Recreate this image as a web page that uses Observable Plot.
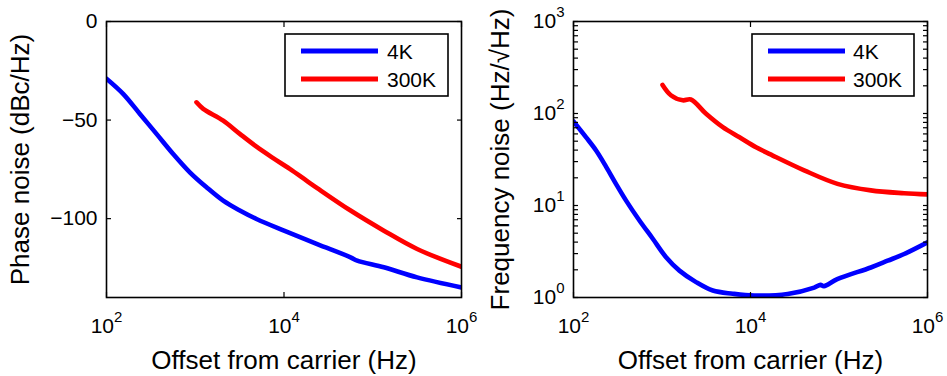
<!DOCTYPE html>
<html><head><meta charset="utf-8">
<script src="https://cdn.jsdelivr.net/npm/d3@7"></script>
<script src="https://cdn.jsdelivr.net/npm/@observablehq/plot@0.6"></script>
<style>
body{margin:0;background:#fff;}
#root{position:relative;width:947px;height:376px;overflow:hidden;font-family:"Liberation Sans",Arial,sans-serif;background:#fff;}
.panel{position:absolute;top:0;}
.panel svg{font-family:"Liberation Sans",Arial,sans-serif;overflow:visible;}
g[aria-label="x-axis tick label"], g[aria-label="y-axis tick label"]{font-size:21px;fill:#000;}
g[aria-label="x-axis label"], g[aria-label="y-axis label"]{font-size:26px;fill:#000;}
.legend{position:absolute;top:0;left:0;overflow:visible;}
</style></head><body><div id="root"></div>
<script>
// ---- data ----
const seriesNames = ["4K", "300K"];
const seriesColors = ["#0000ff", "#ff0000"];

// Left panel: phase noise (dBc/Hz)
const phaseFreq4K = [100, 154, 238, 366, 564, 869, 1340, 2065, 3177, 4898, 10000, 23660, 56230, 66830, 133400, 316200, 1000000];
const phase4K     = [-29, -36.7, -46.9, -57, -67.2, -76.5, -84.1, -90.9, -95.9, -100.2, -106.1, -112.9, -119.6, -121.3, -124.7, -129.8, -134.9];
const phaseFreq300K = [1033, 1230, 2065, 3177, 4898, 7551, 11610, 17910, 23660, 56230, 133400, 316200, 1000000];
const phase300K     = [-41, -44.3, -50.3, -57, -63.5, -69.3, -74.8, -80.7, -84.5, -95.9, -106.1, -115.4, -124.4];

// Right panel: frequency noise (Hz/sqrt(Hz))
const freqFreq4K = [100, 139, 180, 233, 302, 393, 556, 787, 1112, 1574, 2427, 3750, 6310, 10960, 26300, 52480, 61660, 67610, 95500, 229100, 354800, 544500, 1000000];
const freq4K     = [82, 55, 39.6, 26.5, 17.2, 11.3, 6.87, 4.35, 2.74, 1.96, 1.47, 1.19, 1.10, 1.05, 1.09, 1.28, 1.37, 1.33, 1.58, 2.12, 2.51, 2.97, 3.98];
const freqFreq300K = [1014, 1259, 1718, 2118, 3148, 4864, 7516, 11560, 17860, 40370, 96160, 229100, 544500, 1000000];
const freq300K     = [204, 158, 139, 142, 99.3, 71, 55.2, 43, 34.9, 24.1, 17.2, 14.6, 13.6, 13.2];

// Axes
const xTicks = [1e2, 1e4, 1e6];
const phaseTicks = [0, -50, -100];
const freqTicks = [1, 10, 100, 1000];
const freqMinorTicks = [2,3,4,5,6,7,8,9,20,30,40,50,60,70,80,90,200,300,400,500,600,700,800,900];
const xTitle = "Offset from carrier (Hz)";
const phaseTitle = "Phase noise (dBc/Hz)";
const freqTitle = "Frequency noise (Hz/\u221AHz)";

const zip = (xs, ys) => xs.map((x, i) => ({x, y: ys[i]}));
const powFmt = d => "10^" + Math.round(Math.log10(d));
const minusFmt = d => d < 0 ? "\u2212" + Math.abs(d) : String(d);

function makePanel(o) {
  const tickOpts = {tickFormat: () => "", label: null, tickSize: -5, strokeWidth: 1.2};
  const plot = Plot.plot({
    width: o.width, height: 376,
    marginLeft: o.ml, marginRight: o.mr, marginTop: 21, marginBottom: 79,
    style: {fontFamily: '"Liberation Sans", Arial, sans-serif', background: "transparent", color: "#000", overflow: "visible"},
    x: {type: "log", domain: [1e2, 1e6]},
    y: o.y,
    marks: [
      Plot.line(o.s0, {x: "x", y: "y", stroke: seriesColors[0], strokeWidth: 4.6, curve: "catmull-rom", clip: true}),
      Plot.line(o.s1, {x: "x", y: "y", stroke: seriesColors[1], strokeWidth: 4.6, curve: "catmull-rom", clip: true}),
      Plot.frame({stroke: "#000", strokeWidth: 1.6}),
      Plot.axisX({anchor: "bottom", ticks: xTicks, ...tickOpts}),
      Plot.axisX({anchor: "top", ticks: xTicks, ...tickOpts}),
      Plot.axisY({anchor: "left", ticks: o.yAll, ...tickOpts}),
      Plot.axisY({anchor: "right", ticks: o.yAll, ...tickOpts}),
      Plot.axisX({anchor: "bottom", ticks: xTicks, tickSize: 0, tickPadding: 21, tickFormat: powFmt,
        label: xTitle, labelAnchor: "center", labelArrow: "none", labelOffset: 71}),
      Plot.axisY({anchor: "left", ticks: o.yMajor, tickSize: 0, tickPadding: 9, tickFormat: o.yFmt,
        label: o.title, labelAnchor: "center", labelArrow: "none", labelOffset: o.lo})
    ]
  });
  // superscript exponents
  plot.querySelectorAll("text").forEach(t => {
    const m = t.textContent.match(/^10\^(-?\d+)$/);
    if (m) {
      t.textContent = "10";
      const ts = document.createElementNS("http://www.w3.org/2000/svg", "tspan");
      ts.setAttribute("dy", "-0.75em");
      ts.setAttribute("font-size", "15px");
      ts.textContent = m[1];
      t.appendChild(ts);
    }
  });
  const div = document.createElement("div");
  div.className = "panel";
  div.style.left = o.left + "px";
  div.appendChild(plot);
  document.getElementById("root").appendChild(div);
}

makePanel({left: 0, width: 470, ml: 106, mr: 9, y: {domain: [-140, 0]},
  yMajor: phaseTicks, yAll: phaseTicks, yFmt: minusFmt, title: phaseTitle, lo: 96,
  s0: zip(phaseFreq4K, phase4K), s1: zip(phaseFreq300K, phase300K)});
makePanel({left: 470, width: 477, ml: 103, mr: 20, y: {type: "log", domain: [1, 1000]},
  yMajor: freqTicks, yAll: freqTicks.concat(freqMinorTicks), yFmt: powFmt, title: freqTitle, lo: 83,
  s0: zip(freqFreq4K, freq4K), s1: zip(freqFreq300K, freq300K)});

// legends (inside plot area, top-right)
const legendBoxes = [
  {x: 285, y: 34, w: 163, h: 62, sx: 301, tx: 387},
  {x: 752, y: 34, w: 162, h: 62, sx: 768, tx: 853}
];
const svg = d3.select("#root").append("svg").attr("class", "legend")
  .attr("width", 947).attr("height", 376);
legendBoxes.forEach(b => {
  svg.append("rect").attr("x", b.x).attr("y", b.y).attr("width", b.w).attr("height", b.h)
    .attr("fill", "#fff").attr("stroke", "#000").attr("stroke-width", 1.6);
  seriesNames.forEach((name, i) => {
    const yy = b.y + 17 + i * 28;
    svg.append("line").attr("x1", b.sx).attr("x2", b.sx + 77).attr("y1", yy).attr("y2", yy)
      .attr("stroke", seriesColors[i]).attr("stroke-width", 5);
    svg.append("text").attr("x", b.tx).attr("y", yy).attr("dy", "0.36em")
      .attr("font-size", 21).attr("fill", "#000").text(name);
  });
});
</script></body></html>
